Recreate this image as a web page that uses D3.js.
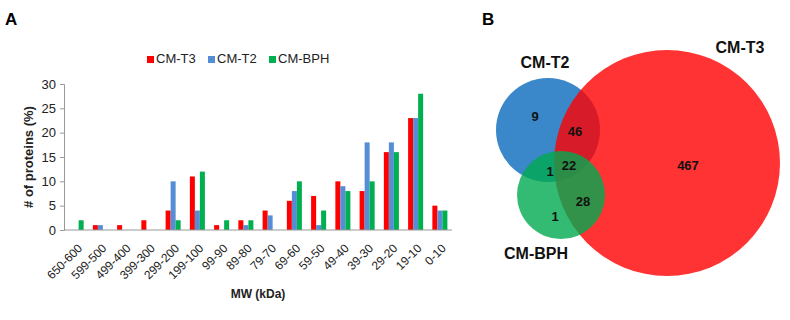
<!DOCTYPE html>
<html><head><meta charset="utf-8">
<script src="https://d3js.org/d3.v7.min.js"></script>
<style>body{margin:0;background:#fff}svg{font-family:"Liberation Sans",Arial,sans-serif}</style>
</head><body>
<svg id="c" width="790" height="320"></svg>
<script>
// ---- Data: bar chart (panel A) ----
const categories = ["650-600","599-500","499-400","399-300","299-200","199-100","99-90","89-80","79-70","69-60","59-50","49-40","39-30","29-20","19-10","0-10"];
const seriesNames = ["CM-T3","CM-T2","CM-BPH"];
const valuesT3  = [0,1,1,2,4,11,1,2,4,6,7,10,8,16,23,5];
const valuesT2  = [0,1,0,0,10,4,0,1,3,8,1,9,18,18,23,4];
const valuesBPH = [2,0,0,0,2,12,2,2,0,10,4,8,10,16,28,4];
const yTicks = [0,5,10,15,20,25,30];
const seriesColors = ["#ff0000","#558ed5","#00b050"];

// ---- Data: Venn diagram (panel B) ----
const vennSets = ["CM-T3","CM-T2","CM-BPH"];
const vennRegions = [
  {sets:["CM-T2"], count:9},
  {sets:["CM-T2","CM-T3"], count:46},
  {sets:["CM-T2","CM-T3","CM-BPH"], count:22},
  {sets:["CM-T2","CM-BPH"], count:1},
  {sets:["CM-T3","CM-BPH"], count:28},
  {sets:["CM-BPH"], count:1},
  {sets:["CM-T3"], count:467}
];

const svg = d3.select("#c");
const allVals = [valuesT3, valuesT2, valuesBPH];
const table = categories.map((c,i)=>({cat:c, vals: seriesNames.map((s,j)=>({s, v: allVals[j][i]}))}));

// Panel A
const x0 = d3.scaleBand().domain(categories).range([64,452]).paddingInner(0.38).paddingOuter(0.19);
const x1 = d3.scaleBand().domain(seriesNames).range([0,x0.bandwidth()]);
const y = d3.scaleLinear().domain([0,30]).range([230,84]);
const color = d3.scaleOrdinal().domain(seriesNames).range(seriesColors);

svg.append("text").attr("x",5).attr("y",25).attr("font-size",17).attr("font-weight","bold").text("A");

const g = svg.append("g");
g.selectAll("g.grp").data(table).join("g").attr("class","grp")
  .attr("transform",d=>`translate(${x0(d.cat)},0)`)
  .selectAll("rect").data(d=>d.vals).join("rect")
  .attr("x",d=>x1(d.s)).attr("width",x1.bandwidth())
  .attr("y",d=>y(d.v)).attr("height",d=>y(0)-y(d.v))
  .attr("fill",d=>color(d.s));

const yAxis = g.append("g").attr("transform","translate(64,0)")
  .call(d3.axisLeft(y).tickValues(yTicks).tickSize(4).tickPadding(4));
yAxis.select(".domain").attr("stroke","#999");
yAxis.selectAll(".tick line").attr("stroke","#999");
yAxis.selectAll("text").attr("font-size",13).attr("fill","#222").attr("font-family","Liberation Sans, Arial, sans-serif");

g.append("line").attr("x1",64).attr("x2",452).attr("y1",y(0)).attr("y2",y(0)).attr("stroke","#999");

g.selectAll("text.xl").data(categories).join("text").attr("class","xl")
  .attr("transform",d=>`translate(${x0(d)+x0.bandwidth()/2+1},${y(0)+13}) rotate(-45)`)
  .attr("text-anchor","end").attr("dy","0.7em").attr("font-size",12).attr("fill","#222").text(d=>d);

svg.append("text").attr("x",258).attr("y",298).attr("text-anchor","middle").attr("font-size",12).attr("font-weight","bold").attr("fill","#222").text("MW (kDa)");
svg.append("text").attr("transform","translate(33,157) rotate(-90)").attr("text-anchor","middle").attr("font-size",13).attr("font-weight","bold").attr("fill","#222").text("# of proteins (%)");

// legend
const legX = [147,208,269];
const leg = svg.selectAll("g.leg").data(seriesNames).join("g").attr("class","leg")
  .attr("transform",(d,i)=>`translate(${legX[i]},56)`);
leg.append("rect").attr("width",7).attr("height",7).attr("fill",d=>color(d));
leg.append("text").attr("x",9).attr("y",7).attr("font-size",13).attr("fill","#222").text(d=>d);

// Panel B
svg.append("text").attr("x",482).attr("y",25).attr("font-size",17).attr("font-weight","bold").text("B");

const vennLayout = {
  "CM-T3": {cx:667, cy:163, r:113, fill:"#ff0000", op:0.8, lx:740, ly:53},
  "CM-T2": {cx:548, cy:130, r:52, fill:"#3a87c9", op:1, lx:545, ly:68},
  "CM-BPH":{cx:561, cy:195, r:44, fill:"#00aa50", op:0.8, lx:536, ly:259}
};
const drawOrder = ["CM-T2","CM-T3","CM-BPH"];
svg.append("g").selectAll("circle").data(drawOrder).join("circle")
  .attr("cx",d=>vennLayout[d].cx).attr("cy",d=>vennLayout[d].cy).attr("r",d=>vennLayout[d].r)
  .attr("fill",d=>vennLayout[d].fill).attr("fill-opacity",d=>vennLayout[d].op);
svg.append("g").selectAll("text").data(vennSets).join("text")
  .attr("x",d=>vennLayout[d].lx).attr("y",d=>vennLayout[d].ly).attr("text-anchor","middle")
  .attr("font-size",16).attr("font-weight","bold").attr("fill","#111").text(d=>d);

const regionPos = [[535,121],[575,136],[569,170],[550,176],[583,206],[555,221],[688,170]];
svg.append("g").selectAll("text").data(vennRegions).join("text")
  .attr("x",(d,i)=>regionPos[i][0]).attr("y",(d,i)=>regionPos[i][1]).attr("text-anchor","middle")
  .attr("font-size",13).attr("font-weight","bold").attr("fill","#111").text(d=>d.count);
</script>
</body></html>
